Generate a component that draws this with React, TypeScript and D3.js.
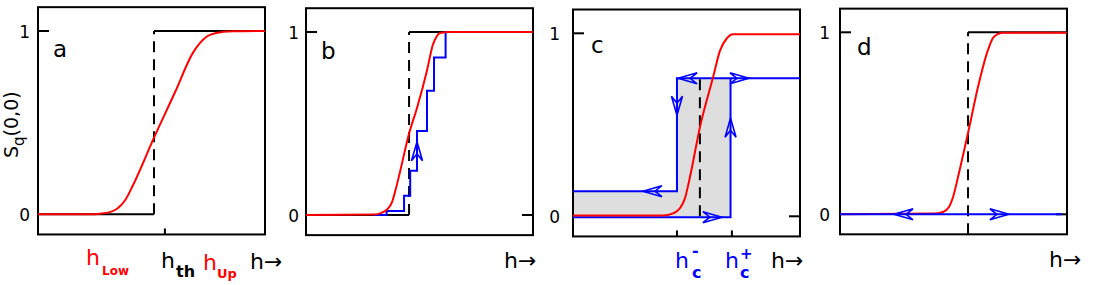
import React from "react";
import * as d3 from "d3";

// ---------- data (h normalised to the panel width, S in [0,1]) ----------
const yTickValues = [0, 1];
const yTickLabels = ["0", "1"];
const panelLetters = ["a", "b", "c", "d"];

const redA: [number, number][] = [
  [0, 0], [0.229, 0], [0.273, 0.003], [0.317, 0.012], [0.348, 0.03], [0.383, 0.075],
  [0.419, 0.16], [0.511, 0.418], [0.604, 0.667], [0.683, 0.882], [0.714, 0.935],
  [0.744, 0.97], [0.78, 0.988], [0.859, 0.998], [1, 1],
];
const thresholdA = 0.511;

const redB: [number, number][] = [
  [0, 0], [0.3, 0.003], [0.33, 0.01], [0.357, 0.03], [0.379, 0.07], [0.392, 0.125],
  [0.414, 0.235], [0.454, 0.445], [0.489, 0.585], [0.533, 0.79], [0.559, 0.93],
  [0.577, 0.978], [0.59, 0.995], [0.634, 1], [1, 1],
];
const blueStepsB: [number, number][] = [
  [0.3, 0], [0.355, 0.022], [0.432, 0.105], [0.459, 0.242], [0.489, 0.459],
  [0.533, 0.679], [0.564, 0.86], [0.615, 1], [1, 1],
];
const thresholdB = 0.454;
const arrowB: [number, number] = [0.489, 0.4];

const redC: [number, number][] = [
  [0, 0.004], [0.396, 0.004], [0.441, 0.016], [0.471, 0.044], [0.493, 0.098],
  [0.515, 0.213], [0.559, 0.486], [0.617, 0.76], [0.648, 0.907], [0.678, 0.973],
  [0.705, 0.995], [1, 0.995],
];
const hcMinus = 0.458;
const hcPlus = 0.694;
const loopTop = 0.754;
const loopLow = 0.137;
const loopBottom = -0.005;
const dashC = 0.559;
const arrowsC: { h: number; s: number; dir: string }[] = [
  { h: 0.463, s: loopTop, dir: "left" },
  { h: 0.775, s: loopTop, dir: "right" },
  { h: hcMinus, s: 0.552, dir: "down" },
  { h: hcPlus, s: 0.536, dir: "up" },
  { h: 0.308, s: loopLow, dir: "left" },
  { h: 0.656, s: loopBottom, dir: "right" },
];
const cTicks = [hcMinus, 0.7];

const redD: [number, number][] = [
  [0, 0], [0.41, 0.004], [0.454, 0.013], [0.48, 0.04], [0.498, 0.095], [0.524, 0.227],
  [0.564, 0.447], [0.612, 0.721], [0.652, 0.903], [0.678, 0.975], [0.718, 0.997], [1, 0.997],
];
const thresholdD = 0.564;
const blueEndD = 0.978;
const arrowsD: { h: number; s: number; dir: string }[] = [
  { h: 0.238, s: 0, dir: "left" },
  { h: 0.744, s: 0, dir: "right" },
];

// ---------- layout ----------
const PW = 227;
const panels = [
  { left: 38, y0: 214.3, y1: 31, tickX: 30, letterX: 53, letterY: 57 },
  { left: 306, y0: 215, y1: 32, tickX: 299, letterX: 321, letterY: 59 },
  { left: 573, y0: 216.3, y1: 33.3, tickX: 560, letterX: 591, letterY: 53 },
  { left: 840, y0: 214.3, y1: 32.3, tickX: 830, letterX: 857, letterY: 55 },
];
const FONT = "DejaVu Sans";
const RED = "#ff0000";
const BLUE = "#0000ff";

function mk(p: (typeof panels)[number]) {
  const x = d3.scaleLinear().domain([0, 1]).range([p.left, p.left + PW]);
  const y = d3.scaleLinear().domain([0, 1]).range([p.y0, p.y1]);
  return { x, y };
}

function arrowHead(tx: number, ty: number, dir: string) {
  const v = dir === "left" ? [-1, 0] : dir === "right" ? [1, 0] : dir === "up" ? [0, -1] : [0, 1];
  const px = -v[1], py = v[0];
  const L = 19, w = 5.5, b = 12;
  const e1 = [tx - v[0] * L + px * w, ty - v[1] * L + py * w];
  const e2 = [tx - v[0] * L - px * w, ty - v[1] * L - py * w];
  const bk = [tx - v[0] * b, ty - v[1] * b];
  return `M${tx},${ty}L${e1[0]},${e1[1]}L${bk[0]},${bk[1]}L${e2[0]},${e2[1]}Z`;
}

function Frame({ i }: { i: number }) {
  const p = panels[i];
  const { x, y } = mk(p);
  const top = y(1.13), bot = y(-0.11);
  return (
    <g>
      <rect x={x(0)} y={top} width={PW} height={bot - top} fill="none" stroke="#000" strokeWidth={2} />
      <line x1={x(0)} x2={x(0) + 11} y1={y(1)} y2={y(1)} stroke="#000" strokeWidth={2} />
      {yTickValues.map((v, k) => (
        <text key={k} x={p.tickX} y={y(v) + 6.5} fontSize={17} fontFamily={FONT} textAnchor="end">
          {yTickLabels[k]}
        </text>
      ))}
      <text x={p.letterX} y={p.letterY} fontSize={23} fontFamily={FONT}>
        {panelLetters[i]}
      </text>
    </g>
  );
}

export default function App() {
  const A = mk(panels[0]);
  const B = mk(panels[1]);
  const C = mk(panels[2]);
  const D = mk(panels[3]);
  const lineOf = (s: ReturnType<typeof mk>, curve: d3.CurveFactory) =>
    d3.line<[number, number]>().x((d) => s.x(d[0])).y((d) => s.y(d[1])).curve(curve);

  const grayPoly: [number, number][] = [
    [0, loopLow], [hcMinus, loopLow], [hcMinus, loopTop], [hcPlus, loopTop], [hcPlus, loopBottom], [0, loopBottom],
  ];
  const upperC: [number, number][] = [[0, loopLow], [hcMinus, loopLow], [hcMinus, loopTop], [1, loopTop]];
  const lowerC: [number, number][] = [[0, loopBottom], [hcPlus, loopBottom], [hcPlus, loopTop]];

  const hText = (x: number, y: number, color: string) => (
    <text x={x} y={y} fontSize={22} fontFamily={FONT} fill={color}>h</text>
  );

  return (
    <svg width={1096} height={285} style={{ position: "absolute", left: 0, top: 0, background: "#fff" }}>
      <rect width={1096} height={285} fill="#fff" />
      {/* Panel a */}
      <g>
        <Frame i={0} />
        <line x1={A.x(0.559)} x2={A.x(0.559)} y1={A.y(-0.11)} y2={A.y(-0.11) - 6} stroke="#000" strokeWidth={2} />
        <path d={lineOf(A, d3.curveLinear)([[0, 0], [thresholdA, 0]]) || ""} stroke="#000" strokeWidth={2} fill="none" />
        <path d={lineOf(A, d3.curveLinear)([[thresholdA, 1], [1, 1]]) || ""} stroke="#000" strokeWidth={2} fill="none" />
        <line x1={A.x(thresholdA)} x2={A.x(thresholdA)} y1={A.y(0)} y2={A.y(1)} stroke="#000" strokeWidth={2} strokeDasharray="11 7" />
        <path d={lineOf(A, d3.curveMonotoneX)(redA) || ""} stroke={RED} strokeWidth={2} fill="none" />
        <text transform="translate(18,158) rotate(-90)" fontSize={19} fontFamily={FONT}>
          S<tspan fontSize={15} dy={6}>q</tspan><tspan dy={-6}>(0,0)</tspan>
        </text>
        {hText(86, 265, RED)}
        <text x={102} y={275} fontSize={12} fontWeight="bold" fontFamily={FONT} fill={RED}>Low</text>
        {hText(161, 268, "#000")}
        <text x={176} y={277} fontSize={16} fontWeight="bold" fontFamily={FONT}>th</text>
        {hText(203, 270, RED)}
        <text x={217} y={278} fontSize={13} fontWeight="bold" fontFamily={FONT} fill={RED}>Up</text>
        <text x={250} y={269} fontSize={22} fontFamily={FONT}>h→</text>
      </g>

      {/* Panel b */}
      <g>
        <Frame i={1} />
        <line x1={B.x(1) - 11} x2={B.x(1)} y1={B.y(0)} y2={B.y(0)} stroke="#000" strokeWidth={2} />
        <path d={lineOf(B, d3.curveLinear)([[0, 0], [thresholdB, 0]]) || ""} stroke="#000" strokeWidth={2} fill="none" />
        <path d={lineOf(B, d3.curveLinear)([[thresholdB, 1], [1, 1]]) || ""} stroke="#000" strokeWidth={2} fill="none" />
        <line x1={B.x(thresholdB)} x2={B.x(thresholdB)} y1={B.y(0)} y2={B.y(1)} stroke="#000" strokeWidth={2} strokeDasharray="11 7" />
        <path d={lineOf(B, d3.curveStepAfter)(blueStepsB) || ""} stroke={BLUE} strokeWidth={2} fill="none" />
        <path d={arrowHead(B.x(arrowB[0]), B.y(arrowB[1]), "up")} stroke={BLUE} strokeWidth={1.6} fill="none" />
        <path d={lineOf(B, d3.curveMonotoneX)(redB) || ""} stroke={RED} strokeWidth={2} fill="none" />
        <text x={504} y={268} fontSize={22} fontFamily={FONT}>h→</text>
      </g>

      {/* Panel c */}
      <g>
        <path d={lineOf(C, d3.curveLinear)(grayPoly) + "Z"} fill="#dedede" stroke="none" />
        <Frame i={2} />
        <line x1={C.x(1) - 11} x2={C.x(1)} y1={C.y(0)} y2={C.y(0)} stroke="#000" strokeWidth={2} />
        {cTicks.map((t, k) => (
          <line key={k} x1={C.x(t)} x2={C.x(t)} y1={C.y(-0.11)} y2={C.y(-0.11) - 6} stroke="#000" strokeWidth={2} />
        ))}
        <line x1={C.x(dashC)} x2={C.x(dashC)} y1={C.y(0)} y2={C.y(loopTop)} stroke="#000" strokeWidth={2} strokeDasharray="11 7" />
        <path d={lineOf(C, d3.curveLinear)(upperC) || ""} stroke={BLUE} strokeWidth={2} fill="none" />
        <path d={lineOf(C, d3.curveLinear)(lowerC) || ""} stroke={BLUE} strokeWidth={2} fill="none" />
        {arrowsC.map((a, k) => (
          <path key={k} d={arrowHead(C.x(a.h), C.y(a.s), a.dir)} stroke={BLUE} strokeWidth={1.6} fill="none" />
        ))}
        <path d={lineOf(C, d3.curveMonotoneX)(redC) || ""} stroke={RED} strokeWidth={2} fill="none" />
        {hText(675, 268, BLUE)}
        <text x={692} y={256} fontSize={16} fontWeight="bold" fontFamily={FONT} fill={BLUE}>-</text>
        <text x={692} y={278} fontSize={16} fontWeight="bold" fontFamily={FONT} fill={BLUE}>c</text>
        {hText(725, 268, BLUE)}
        <text x={740} y={259} fontSize={15} fontWeight="bold" fontFamily={FONT} fill={BLUE}>+</text>
        <text x={740} y={278} fontSize={16} fontWeight="bold" fontFamily={FONT} fill={BLUE}>c</text>
        <text x={771} y={268} fontSize={22} fontFamily={FONT}>h→</text>
      </g>

      {/* Panel d */}
      <g>
        <Frame i={3} />
        <line x1={D.x(1) - 11} x2={D.x(1)} y1={D.y(0)} y2={D.y(0)} stroke="#000" strokeWidth={2} />
        <path d={lineOf(D, d3.curveLinear)([[thresholdD, 1], [1, 1]]) || ""} stroke="#000" strokeWidth={2} fill="none" />
        <line x1={D.x(thresholdD)} x2={D.x(thresholdD)} y1={D.y(-0.11)} y2={D.y(1)} stroke="#000" strokeWidth={2} strokeDasharray="11 7" />
        <path d={lineOf(D, d3.curveMonotoneX)(redD) || ""} stroke={RED} strokeWidth={2} fill="none" />
        <path d={lineOf(D, d3.curveLinear)([[0, 0], [blueEndD, 0]]) || ""} stroke={BLUE} strokeWidth={2} fill="none" />
        {arrowsD.map((a, k) => (
          <path key={k} d={arrowHead(D.x(a.h), D.y(a.s), a.dir)} stroke={BLUE} strokeWidth={1.6} fill="none" />
        ))}
        <text x={1049} y={267} fontSize={22} fontFamily={FONT}>h→</text>
      </g>
    </svg>
  );
}
